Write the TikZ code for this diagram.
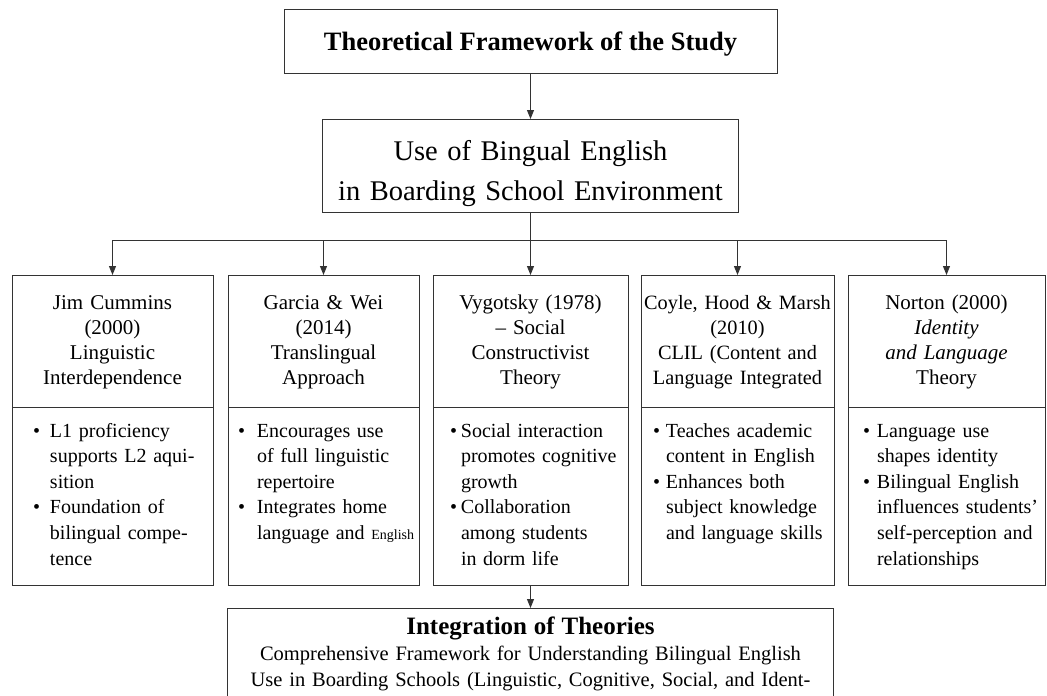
\documentclass[tikz,border=0pt]{standalone}
\usepackage{fontspec}
\setmainfont{Liberation Serif}
\usetikzlibrary{arrows.meta,positioning}

% bullet hanging left of the text margin
\newcommand\bul[1][14pt]{\leavevmode\llap{\makebox[#1][l]{\textbullet}}}

\tikzset{
  box/.style={draw=black!80, line width=0.9pt, outer sep=0pt, inner ysep=0pt},
  head/.style={box, inner xsep=2pt, align=center, text height=34pt, text depth=98pt,
    font=\fontsize{21}{25.3}\selectfont},
  body/.style={box, inner xsep=0pt, align=left, text height=30pt, text depth=148pt,
    font=\fontsize{20}{25.6}\selectfont},
  arr/.style={draw=black!80, line width=0.9pt, -{Triangle[length=9pt,width=7pt]}}
}

\begin{document}
\begin{tikzpicture}[x=1pt,y=-1pt]
  \useasboundingbox (0,0) rectangle (1047,696);

  % top of the framework
  \node[box, anchor=north, minimum width=493pt, text height=41pt, text depth=23pt,
    font=\bfseries\fontsize{26.5}{30}\selectfont] (title) at (530.5,9) {Theoretical Framework of the Study};
  \node[box, anchor=north, text width=412pt, inner xsep=2pt, align=center, text height=41pt, text depth=52pt,
    font=\fontsize{28.5}{40}\selectfont] (use) at (530.5,119) {Use of Bingual English\\ in Boarding School Environment};
  \coordinate (bus) at (530.5,240);

  % the five theories
  \node[head, anchor=north, text width=197pt] (h1) at (112.5,275) {Jim Cummins\\ (2000)\\ Linguistic\\ Interdependence};
  \node[body, text width=201pt, below=0pt of h1] (b1) {\leftskip=38pt
    \bul[17pt]L1 proficiency\\ supports L2 aqui-\\ sition\\
    \bul[17pt]Foundation of\\ bilingual compe-\\ tence\par};

  \node[head, anchor=north, text width=187pt] (h2) at (323.5,275) {Garcia \& Wei\\ (2014)\\ Translingual\\ Approach};
  \node[body, text width=191pt, below=0pt of h2] (b2) {\leftskip=29pt
    \bul[19pt]Encourages use\\ of full linguistic\\ repertoire\\
    \bul[19pt]Integrates home\\ language and {\fontsize{14}{16}\selectfont English}\par};

  \node[head, anchor=north, text width=191pt] (h3) at (530.5,275) {Vygotsky (1978)\\ -- Social\\ Constructivist\\ Theory};
  \node[body, text width=195pt, below=0pt of h3] (b3) {\leftskip=28pt
    \bul[11pt]Social interaction\\ promotes cognitive\\ growth\\
    \bul[11pt]Collaboration\\ among students\\ in dorm life\par};

  \node[head, anchor=north, inner xsep=0pt, text width=193pt, font=\fontsize{20.3}{25.3}\selectfont] (h4) at (737.5,275)
    {Coyle, Hood \& Marsh\\ (2010)\\ CLIL (Content and\\ Language Integrated};
  \node[body, text width=193pt, below=0pt of h4] (b4) {\leftskip=25pt
    \bul[13pt]Teaches academic\\ content in English\\
    \bul[13pt]Enhances both\\ subject knowledge\\ and language skills\par};

  \node[head, anchor=north, text width=193pt] (h5) at (946.5,275) {Norton (2000)\\ \textit{Identity}\\ \textit{and Language}\\ Theory};
  \node[body, text width=197pt, below=0pt of h5] (b5) {\leftskip=29pt
    \bul Language use\\ shapes identity\\
    \bul Bilingual English\\ influences students’\\ self-perception and\\ relationships\par};

  % integration
  \node[box, anchor=north, text width=602pt, inner xsep=2pt, align=center, text height=26pt, text depth=94pt,
    font=\fontsize{20.5}{26}\selectfont] (integ) at (530.5,608)
    {{\bfseries\fontsize{25}{26}\selectfont Integration of Theories}\\
     Comprehensive Framework for Understanding Bilingual English\\
     Use in Boarding Schools (Linguistic, Cognitive, Social, and Ident-};

  \draw[arr] (title) -- (use);
  \draw[draw=black!80, line width=0.9pt] (use) -- (bus);
  \draw[arr] (bus) -| (h1);
  \draw[arr] (bus) -| (h2);
  \draw[arr] (bus) -- (h3);
  \draw[arr] (bus) -| (h4);
  \draw[arr] (bus) -| (h5);
  \draw[arr] (b3) -- (integ);
\end{tikzpicture}
\end{document}
